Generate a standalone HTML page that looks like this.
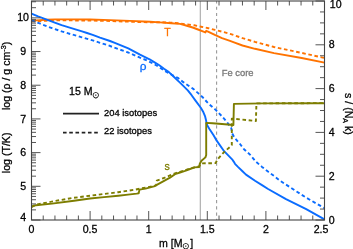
<!DOCTYPE html>
<html><head><meta charset="utf-8"><title>plot</title>
<style>html,body{margin:0;padding:0;background:#fff;width:353px;height:249px;overflow:hidden}svg{display:block}text{stroke-width:0.28px}</style>
</head><body>
<svg width="353" height="249" viewBox="0 0 353 249" font-family="'Liberation Sans', Arial, Helvetica, sans-serif"><line x1="200.3" y1="1" x2="200.3" y2="220" stroke="#a8a8a8" stroke-width="1.1"/>
<line x1="216.6" y1="1" x2="216.6" y2="220" stroke="#999" stroke-width="1.1" stroke-dasharray="3.2 3.04" stroke-dashoffset="0.6"/>
<polyline points="31.5,21.2 36.0,21.2 46.0,20.7 55.0,20.4 70.0,20.4 90.0,20.5 110.0,21.0 130.0,21.7 150.0,22.3 160.0,22.2 170.0,22.6 180.0,23.4 186.0,24.3 194.2,25.3 201.0,26.7 208.3,28.2 215.0,29.9 222.5,31.8 230.0,33.8 242.5,38.1 255.0,41.9 274.0,47.0 301.7,52.9 324.5,58.0" fill="none" stroke="#ff7300" stroke-width="1.90" stroke-linejoin="round" stroke-dasharray="3.6 2.64"/>
<polyline points="31.5,21.2 36.0,20.4 46.0,19.7 55.0,19.4 70.0,19.4 90.0,19.5 110.0,20.1 130.0,20.9 150.0,21.8 160.0,22.4 171.3,23.2 180.0,23.9 186.0,25.5 192.7,27.5 198.0,29.5 204.1,31.8 205.4,32.4 206.2,30.8 207.5,31.3 215.4,35.2 222.0,38.2 230.0,40.9 234.0,42.4 242.5,45.5 255.0,48.8 274.0,53.1 301.7,58.0 324.5,62.6" fill="none" stroke="#ff7300" stroke-width="1.90" stroke-linejoin="round"/>
<polyline points="31.5,20.4 34.0,21.2 40.4,23.7 48.5,26.9 52.0,28.1 61.6,31.4 71.3,34.3 82.0,37.3 92.7,40.4 100.0,42.8 107.4,45.0 114.2,47.6 128.3,52.5 140.0,57.6 146.7,60.3 152.5,63.2 157.4,66.0 161.2,68.5 165.0,71.1 172.1,75.0 177.8,77.8 183.0,81.9 187.8,85.2 193.6,89.1 198.4,93.4 203.2,97.8 208.0,103.2 215.9,110.1 221.9,116.3 224.9,119.7 227.7,123.1 231.3,128.2 232.2,133.5 234.5,137.6 240.0,144.0 244.0,149.2 250.0,154.6 256.0,161.7 262.0,166.9 268.0,171.6 274.0,175.9 280.0,180.7 292.0,188.5 305.7,197.4 324.5,208.2" fill="none" stroke="#0a6cff" stroke-width="1.90" stroke-linejoin="round" stroke-dasharray="3.6 2.64"/>
<polyline points="31.5,13.6 38.0,16.4 46.1,19.3 54.1,22.4 61.6,25.2 71.3,28.2 82.0,31.4 87.0,33.0 92.7,34.9 100.0,37.6 110.0,41.0 114.2,42.7 128.3,48.4 140.0,54.7 149.6,59.3 155.0,62.6 159.3,65.2 164.0,68.7 168.9,72.1 173.3,76.3 178.9,81.6 182.0,84.6 187.8,90.4 191.6,95.2 195.5,100.6 200.8,107.7 203.0,111.4 205.0,116.1 206.1,120.5 206.6,123.6 207.2,125.3 209.6,129.3 213.4,135.1 216.0,139.6 224.1,151.2 232.1,159.3 233.7,161.6 235.0,163.8 237.7,166.6 242.5,171.2 246.0,174.6 255.0,180.8 262.4,185.4 268.1,189.0 286.0,199.1 306.2,209.1 324.5,219.3" fill="none" stroke="#0a6cff" stroke-width="1.90" stroke-linejoin="round"/>
<polyline points="31.5,206.9 35.0,205.0 42.5,203.4 55.0,201.0 72.5,198.0 90.0,195.7 118.3,192.2 135.3,189.6 154.0,185.9 156.2,185.4 156.8,180.6 164.0,178.0 170.0,175.4 175.0,173.3 180.0,171.8 185.0,170.2 190.0,168.4 195.9,167.0 199.2,166.4 200.5,164.0 201.6,163.4 215.6,163.1 217.6,159.3 224.1,152.1 230.5,146.5 231.8,145.0 231.8,118.8 234.5,118.8 255.9,121.0 256.4,104.2 257.0,103.4 324.5,103.1" fill="none" stroke="#7d7d00" stroke-width="1.90" stroke-linejoin="round" stroke-dasharray="3.6 2.64"/>
<polyline points="31.5,206.9 36.0,205.2 52.0,203.6 74.0,200.8 90.0,198.5 104.0,197.1 118.3,195.7 128.0,194.6 136.7,193.6 138.7,193.3 139.5,189.6 145.5,188.6 154.0,186.4 160.0,183.1 165.0,180.3 170.0,177.6 175.0,174.2 180.0,172.5 185.1,170.9 190.0,169.0 194.7,167.4 199.2,167.0 199.8,163.8 201.5,160.8 205.4,157.4 206.2,155.0 206.2,122.9 212.5,123.2 222.0,124.0 233.4,125.0 233.9,103.9 263.7,103.4 324.5,103.3" fill="none" stroke="#7d7d00" stroke-width="1.90" stroke-linejoin="round"/>
<path d="M31.50 220.00L31.50 211.00 M31.50 1.00L31.50 10.00 M43.22 220.00L43.22 215.50 M43.22 1.00L43.22 5.50 M54.94 220.00L54.94 215.50 M54.94 1.00L54.94 5.50 M66.66 220.00L66.66 215.50 M66.66 1.00L66.66 5.50 M78.38 220.00L78.38 215.50 M78.38 1.00L78.38 5.50 M90.10 220.00L90.10 211.00 M90.10 1.00L90.10 10.00 M101.82 220.00L101.82 215.50 M101.82 1.00L101.82 5.50 M113.54 220.00L113.54 215.50 M113.54 1.00L113.54 5.50 M125.26 220.00L125.26 215.50 M125.26 1.00L125.26 5.50 M136.98 220.00L136.98 215.50 M136.98 1.00L136.98 5.50 M148.70 220.00L148.70 211.00 M148.70 1.00L148.70 10.00 M160.42 220.00L160.42 215.50 M160.42 1.00L160.42 5.50 M172.14 220.00L172.14 215.50 M172.14 1.00L172.14 5.50 M183.86 220.00L183.86 215.50 M183.86 1.00L183.86 5.50 M195.58 220.00L195.58 215.50 M195.58 1.00L195.58 5.50 M207.30 220.00L207.30 211.00 M207.30 1.00L207.30 10.00 M219.02 220.00L219.02 215.50 M219.02 1.00L219.02 5.50 M230.74 220.00L230.74 215.50 M230.74 1.00L230.74 5.50 M242.46 220.00L242.46 215.50 M242.46 1.00L242.46 5.50 M254.18 220.00L254.18 215.50 M254.18 1.00L254.18 5.50 M265.90 220.00L265.90 211.00 M265.90 1.00L265.90 10.00 M277.62 220.00L277.62 215.50 M277.62 1.00L277.62 5.50 M289.34 220.00L289.34 215.50 M289.34 1.00L289.34 5.50 M301.06 220.00L301.06 215.50 M301.06 1.00L301.06 5.50 M312.78 220.00L312.78 215.50 M312.78 1.00L312.78 5.50 M324.50 220.00L324.50 211.00 M324.50 1.00L324.50 10.00 M31.50 220.00L40.50 220.00 M31.50 209.86L36.00 209.86 M31.50 203.92L36.00 203.92 M31.50 199.72L36.00 199.72 M31.50 196.45L36.00 196.45 M31.50 193.78L36.00 193.78 M31.50 191.53L36.00 191.53 M31.50 189.57L36.00 189.57 M31.50 187.85L36.00 187.85 M31.50 186.31L40.50 186.31 M31.50 176.17L36.00 176.17 M31.50 170.23L36.00 170.23 M31.50 166.02L36.00 166.02 M31.50 162.76L36.00 162.76 M31.50 160.09L36.00 160.09 M31.50 157.83L36.00 157.83 M31.50 155.88L36.00 155.88 M31.50 154.16L36.00 154.16 M31.50 152.62L40.50 152.62 M31.50 142.47L36.00 142.47 M31.50 136.54L36.00 136.54 M31.50 132.33L36.00 132.33 M31.50 129.07L36.00 129.07 M31.50 126.40L36.00 126.40 M31.50 124.14L36.00 124.14 M31.50 122.19L36.00 122.19 M31.50 120.46L36.00 120.46 M31.50 118.92L40.50 118.92 M31.50 108.78L36.00 108.78 M31.50 102.85L36.00 102.85 M31.50 98.64L36.00 98.64 M31.50 95.37L36.00 95.37 M31.50 92.71L36.00 92.71 M31.50 90.45L36.00 90.45 M31.50 88.50L36.00 88.50 M31.50 86.77L36.00 86.77 M31.50 85.23L40.50 85.23 M31.50 75.09L36.00 75.09 M31.50 69.16L36.00 69.16 M31.50 64.95L36.00 64.95 M31.50 61.68L36.00 61.68 M31.50 59.01L36.00 59.01 M31.50 56.76L36.00 56.76 M31.50 54.80L36.00 54.80 M31.50 53.08L36.00 53.08 M31.50 51.54L40.50 51.54 M31.50 41.40L36.00 41.40 M31.50 35.46L36.00 35.46 M31.50 31.25L36.00 31.25 M31.50 27.99L36.00 27.99 M31.50 25.32L36.00 25.32 M31.50 23.07L36.00 23.07 M31.50 21.11L36.00 21.11 M31.50 19.39L36.00 19.39 M31.50 17.85L40.50 17.85 M31.50 7.70L36.00 7.70 M31.50 1.77L36.00 1.77 M324.50 220.00L315.50 220.00 M324.50 209.05L320.00 209.05 M324.50 198.10L320.00 198.10 M324.50 187.15L320.00 187.15 M324.50 176.20L315.50 176.20 M324.50 165.25L320.00 165.25 M324.50 154.30L320.00 154.30 M324.50 143.35L320.00 143.35 M324.50 132.40L315.50 132.40 M324.50 121.45L320.00 121.45 M324.50 110.50L320.00 110.50 M324.50 99.55L320.00 99.55 M324.50 88.60L315.50 88.60 M324.50 77.65L320.00 77.65 M324.50 66.70L320.00 66.70 M324.50 55.75L320.00 55.75 M324.50 44.80L315.50 44.80 M324.50 33.85L320.00 33.85 M324.50 22.90L320.00 22.90 M324.50 11.95L320.00 11.95 M324.50 1.00L315.50 1.00" stroke="#555" stroke-width="1" fill="none"/>
<rect x="31.5" y="1.0" width="293.0" height="219.0" fill="none" stroke="#444" stroke-width="1.1"/>
<text x="23.10" y="220.70" font-size="10.60" fill="#000" stroke="#000" text-anchor="middle">4</text>
<text x="23.10" y="190.01" font-size="10.60" fill="#000" stroke="#000" text-anchor="middle">5</text>
<text x="23.10" y="156.32" font-size="10.60" fill="#000" stroke="#000" text-anchor="middle">6</text>
<text x="23.10" y="122.62" font-size="10.60" fill="#000" stroke="#000" text-anchor="middle">7</text>
<text x="23.10" y="88.93" font-size="10.60" fill="#000" stroke="#000" text-anchor="middle">8</text>
<text x="23.10" y="55.24" font-size="10.60" fill="#000" stroke="#000" text-anchor="middle">9</text>
<text x="23.10" y="20.90" font-size="10.60" fill="#000" stroke="#000" text-anchor="middle">10</text>
<text x="328.80" y="223.50" font-size="10.60" fill="#000" stroke="#000" text-anchor="start">0</text>
<text x="328.80" y="179.70" font-size="10.60" fill="#000" stroke="#000" text-anchor="start">2</text>
<text x="328.80" y="135.90" font-size="10.60" fill="#000" stroke="#000" text-anchor="start">4</text>
<text x="328.80" y="92.10" font-size="10.60" fill="#000" stroke="#000" text-anchor="start">6</text>
<text x="328.80" y="48.30" font-size="10.60" fill="#000" stroke="#000" text-anchor="start">8</text>
<text x="329.80" y="7.50" font-size="10.60" fill="#000" stroke="#000" text-anchor="start">10</text>
<text x="31.50" y="233.10" font-size="10.60" fill="#000" stroke="#000" text-anchor="middle">0</text>
<text x="90.10" y="233.10" font-size="10.60" fill="#000" stroke="#000" text-anchor="middle">0.5</text>
<text x="148.70" y="233.10" font-size="10.60" fill="#000" stroke="#000" text-anchor="middle">1</text>
<text x="207.30" y="233.10" font-size="10.60" fill="#000" stroke="#000" text-anchor="middle">1.5</text>
<text x="265.90" y="233.10" font-size="10.60" fill="#000" stroke="#000" text-anchor="middle">2</text>
<text x="321.00" y="233.10" font-size="10.60" fill="#000" stroke="#000" text-anchor="middle">2.5</text>
<text x="159" y="246.5" font-size="10.60" fill="#000" stroke="#000">m [M<tspan font-size="8.5" dy="2.5" dx="-0.4" stroke-width="0.1">⊙</tspan><tspan dy="-2.5">]</tspan></text>
<text transform="translate(10.2,173.2) rotate(-90)" font-size="10.60" fill="#000" stroke="#000">log (T/K)</text>
<text transform="translate(10.2,110.1) rotate(-90)" font-size="10.60" fill="#000" stroke="#000">log (ρ / g cm<tspan font-size="7.2" dy="-4.6">-3</tspan><tspan dy="4.6">)</tspan></text>
<text transform="translate(344.5,93.0) rotate(90)" font-size="10.60" fill="#000" stroke="#000">s / (N<tspan font-size="7" dy="2">A</tspan><tspan dy="-2"> k)</tspan></text>
<text x="69" y="95" font-size="10.60" fill="#000" stroke="#000">15 M<tspan font-size="8.5" dy="2.5" dx="-0.4" stroke-width="0.1">⊙</tspan></text>
<line x1="63" y1="113.6" x2="99" y2="113.6" stroke="#222" stroke-width="1.6"/>
<line x1="63" y1="132.7" x2="99" y2="132.7" stroke="#222" stroke-width="1.7" stroke-dasharray="3.6 2.64"/>
<text x="104.00" y="116.10" font-size="9.40" fill="#000" stroke="#000" text-anchor="start">204 isotopes</text>
<text x="104.00" y="134.30" font-size="9.40" fill="#000" stroke="#000" text-anchor="start">22 isotopes</text>
<text x="167.50" y="35.60" font-size="10.60" fill="#ff7300" stroke="#ff7300" text-anchor="middle">T</text>
<text x="143.20" y="69.80" font-size="11.80" fill="#0a6cff" stroke="#0a6cff" text-anchor="middle">ρ</text>
<text x="167.20" y="170.00" font-size="10.60" fill="#7d7d00" stroke="#7d7d00" text-anchor="middle">s</text>
<text x="221.80" y="75.80" font-size="9.40" fill="#777" stroke="#777" text-anchor="start">Fe core</text></svg>
</body></html>
